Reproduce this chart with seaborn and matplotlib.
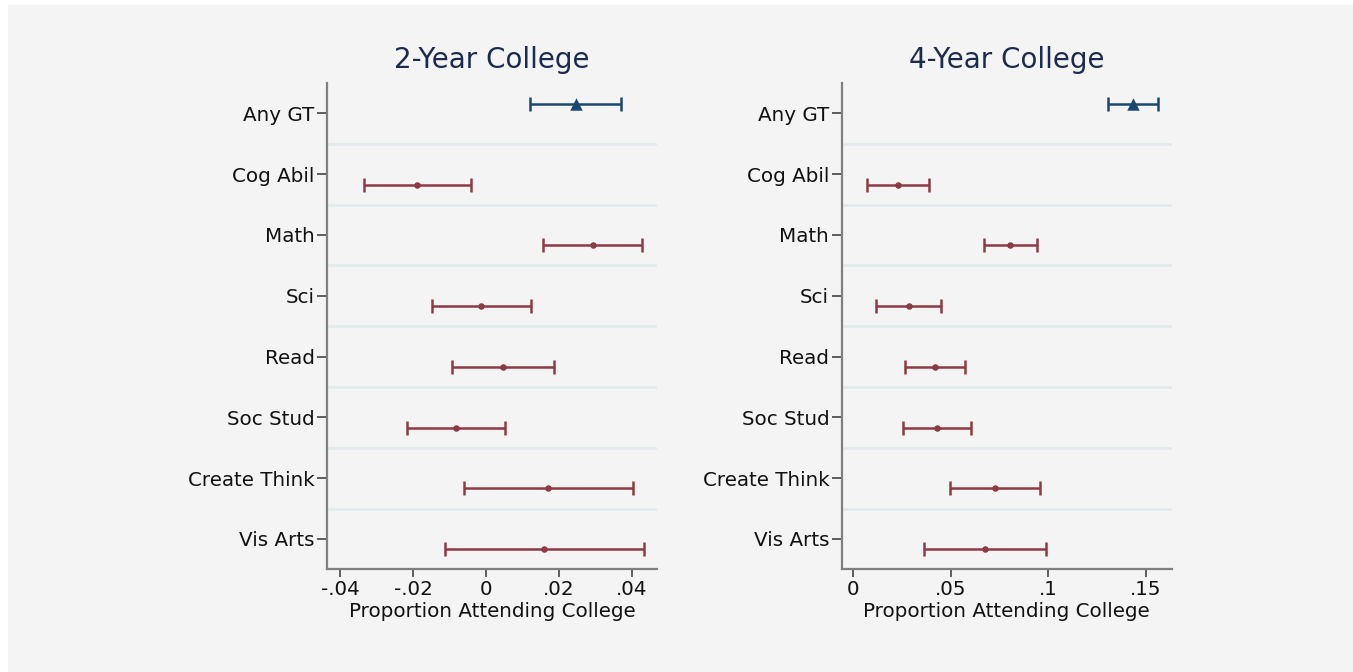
import matplotlib
matplotlib.use("Agg")
import matplotlib.pyplot as plt
import seaborn as sns
import pandas as pd
import numpy as np
from matplotlib.patches import Rectangle

# ---- data ----
categories = ["Any GT", "Cog Abil", "Math", "Sci", "Read", "Soc Stud", "Create Think", "Vis Arts"]
groups = ["gt", "sub", "sub", "sub", "sub", "sub", "sub", "sub"]

est_2yr = [0.0247, -0.0190, 0.0293, -0.0013, 0.0046, -0.0083, 0.0171, 0.0160]
low_2yr = [0.0121, -0.0335, 0.0155, -0.0147, -0.0094, -0.0217, -0.0060, -0.0112]
up_2yr = [0.0369, -0.0041, 0.0429, 0.0123, 0.0187, 0.0051, 0.0403, 0.0434]

est_4yr = [0.1435, 0.0228, 0.0803, 0.0283, 0.0417, 0.0429, 0.0729, 0.0677]
low_4yr = [0.1309, 0.0069, 0.0672, 0.0115, 0.0264, 0.0256, 0.0497, 0.0365]
up_4yr = [0.1566, 0.0388, 0.0940, 0.0451, 0.0575, 0.0604, 0.0957, 0.0991]

panel_titles = ["2-Year College", "4-Year College"]
xticks_2yr = [-0.04, -0.02, 0, 0.02, 0.04]
xticklabels_2yr = ["-.04", "-.02", "0", ".02", ".04"]
xticks_4yr = [0, 0.05, 0.1, 0.15]
xticklabels_4yr = ["0", ".05", ".1", ".15"]
xlabel = "Proportion Attending College"

# ---- styling ----
BG = "#f4f4f4"
RED = "#8e3a44"
BLUE = "#1a476f"
GRID = "#e2eaec"
SPINE = "#808080"

sns.set_theme(style="white", rc={"axes.facecolor": BG, "figure.facecolor": "white"})
plt.rcParams["font.family"] = ["DejaVu Sans"]

fig = plt.figure(figsize=(13.53, 6.72), dpi=100)
fig.patches.append(Rectangle((8 / 1353, 0), 1 - 8 / 1353, 1 - 5 / 672,
                             transform=fig.transFigure, facecolor=BG,
                             edgecolor="none", zorder=-10))

offsets = {"gt": -0.15, "sub": 0.17}
colors = {"gt": BLUE, "sub": RED}
markers = {"gt": "^", "sub": "o"}
msizes = {"gt": 80, "sub": 22}

panels = [
    (est_2yr, low_2yr, up_2yr, xticks_2yr, xticklabels_2yr, (-0.0436, 0.0469), 327),
    (est_4yr, low_4yr, up_4yr, xticks_4yr, xticklabels_4yr, (-0.0060, 0.1634), 841.7),
]

for i, (est, lo, up, xt, xtl, xl, left_px) in enumerate(panels):
    ax = fig.add_axes([left_px / 1353, 1 - 569.3 / 672, 330 / 1353, (569.3 - 83) / 672])
    df = pd.DataFrame({"cat": categories, "group": groups, "est": est, "lo": lo, "up": up})
    df["pos"] = [k + offsets[g] for k, g in enumerate(df["group"])]

    for b in np.arange(0.5, len(categories) - 0.5, 1.0):
        ax.axhline(b, color=GRID, lw=2, zorder=0)

    for g in ["gt", "sub"]:
        d = df[df["group"] == g]
        ax.errorbar(d["est"], d["pos"],
                    xerr=[d["est"] - d["lo"], d["up"] - d["est"]],
                    fmt="none", ecolor=colors[g], elinewidth=1.8,
                    capsize=5, capthick=1.8, zorder=2)
        sns.scatterplot(data=d, x="est", y="pos", ax=ax, color=colors[g],
                        marker=markers[g], s=msizes[g], edgecolor=colors[g],
                        linewidth=0, zorder=3, legend=False)

    ax.set_ylim(len(categories) - 0.5, -0.5)
    ax.set_xlim(*xl)
    ax.set_yticks(range(len(categories)))
    ax.set_yticklabels(categories, fontsize=14.3, color="#111111")
    ax.set_xticks(xt)
    ax.set_xticklabels(xtl, fontsize=14.3, color="#111111")
    ax.set_xlabel(xlabel, fontsize=14.3, color="#111111", labelpad=2)
    ax.set_ylabel("")
    ax.set_title(panel_titles[i], fontsize=20, color="#1c2a4d", pad=11)

    sns.despine(ax=ax, top=True, right=True)
    for s in ["left", "bottom"]:
        ax.spines[s].set_color(SPINE)
        ax.spines[s].set_linewidth(1.6)
    ax.tick_params(axis="y", which="major", left=True, length=7.5, width=1.1,
                   color="#333333", pad=1.5)
    ax.tick_params(axis="x", which="major", bottom=True, length=6, width=1.1,
                   color="#333333", pad=2)

fig.savefig("out.png", dpi=100, facecolor="white")
